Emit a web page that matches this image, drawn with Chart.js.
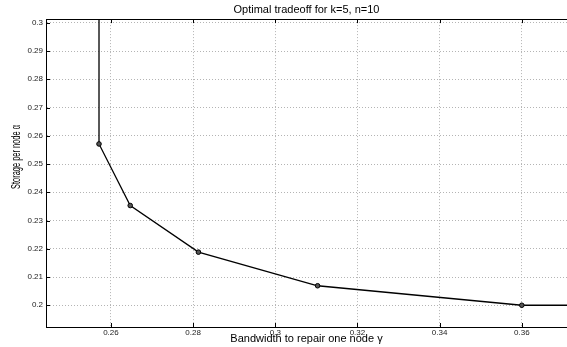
<!DOCTYPE html>
<html>
<head>
<meta charset="utf-8">
<script src="https://cdn.jsdelivr.net/npm/chart.js@4/dist/chart.umd.min.js"></script>
<style>
  html, body { margin: 0; padding: 0; background: #fff; }
  canvas { display: block; }
</style>
</head>
<body>
<canvas id="chart" width="567" height="347"></canvas>
<script>
// tradeoff curve, k=5, n=10 (first/last points run off the axes)
const gammaVals = [0.2571, 0.2571, 0.2647, 0.2813, 0.3103, 0.36, 0.372];
const alphaVals = [0.31, 0.2571, 0.2353, 0.2188, 0.2069, 0.2, 0.2];
const showMarker = [false, true, true, true, true, true, false];

const xTicks = [0.26, 0.28, 0.3, 0.32, 0.34, 0.36];
const yTicks = [0.2, 0.21, 0.22, 0.23, 0.24, 0.25, 0.26, 0.27, 0.28, 0.29, 0.3];

const titleText = 'Optimal tradeoff for k=5, n=10';
const xLabel = 'Bandwidth to repair one node \u03b3';
const yLabel = 'Storage per node \u03b1';

const fontFam = '"Liberation Sans", Arial, Helvetica, sans-serif';

const points = gammaVals.map((g, i) => ({ x: g, y: alphaVals[i] }));

// matlab style: inward tick marks, top frame line, axis labels
const matlabAxes = {
  id: 'matlabAxes',
  afterDraw(chart) {
    const ctx = chart.ctx;
    const area = chart.chartArea;
    const xs = chart.scales.x;
    const ys = chart.scales.y;
    ctx.save();
    ctx.strokeStyle = '#000';
    ctx.lineWidth = 1;
    ctx.beginPath();
    ctx.moveTo(area.left, Math.round(area.top) + 0.5);
    ctx.lineTo(area.right, Math.round(area.top) + 0.5);
    xTicks.forEach(v => {
      const px = Math.round(xs.getPixelForValue(v)) + 0.5;
      ctx.moveTo(px, area.bottom);
      ctx.lineTo(px, area.bottom - 4);
      ctx.moveTo(px, area.top);
      ctx.lineTo(px, area.top + 4);
    });
    yTicks.forEach(v => {
      const py = Math.round(ys.getPixelForValue(v)) + 0.5;
      ctx.moveTo(area.left, py);
      ctx.lineTo(area.left + 4, py);
    });
    ctx.stroke();

    ctx.fillStyle = '#000';
    ctx.font = '11px ' + fontFam;
    ctx.textAlign = 'center';
    ctx.textBaseline = 'middle';
    ctx.fillText(xLabel, (area.left + area.right) / 2, 339);

    ctx.font = '12px ' + fontFam;
    ctx.translate(17, 157);
    ctx.rotate(-Math.PI / 2);
    ctx.scale(0.62, 1);
    ctx.fillText(yLabel, 0, 0);
    ctx.restore();
  }
};

new Chart(document.getElementById('chart'), {
  type: 'line',
  data: {
    datasets: [
      {
        data: points,
        borderColor: '#000',
        borderWidth: 1.3,
        fill: false,
        tension: 0,
        clip: 0,
        pointRadius: showMarker.map(s => (s ? 2.3 : 0)),
        pointHoverRadius: 0,
        pointBackgroundColor: '#555',
        pointBorderColor: '#000',
        pointBorderWidth: 1,
      },
    ],
  },
  options: {
    responsive: false,
    animation: false,
    events: [],
    layout: { padding: 0 },
    plugins: {
      legend: { display: false },
      tooltip: { enabled: false },
      title: {
        display: true,
        text: titleText,
        fullSize: false,
        color: '#000',
        font: { family: fontFam, size: 11, weight: 'normal', lineHeight: 1.1 },
        padding: { top: 4, bottom: 3 },
      },
    },
    scales: {
      x: {
        type: 'linear',
        min: 0.2442,
        max: 0.371,
        afterBuildTicks: s => { s.ticks = xTicks.map(v => ({ value: v })); },
        afterFit: s => { s.height = 20; },
        ticks: {
          color: '#222',
          font: { family: fontFam, size: 8 },
          padding: 1,
          maxRotation: 0,
          callback: v => String(+v.toFixed(2)),
        },
        grid: { color: '#b4b4b4', lineWidth: 1, drawTicks: false },
        border: { color: '#000', width: 1, dash: [1, 2] },
      },
      y: {
        type: 'linear',
        min: 0.1923,
        max: 0.3013,
        afterBuildTicks: s => { s.ticks = yTicks.map(v => ({ value: v })); },
        afterFit: s => { s.width = 46; },
        ticks: {
          color: '#222',
          font: { family: fontFam, size: 8 },
          padding: 3,
          callback: v => String(+v.toFixed(2)),
        },
        grid: { color: '#b4b4b4', lineWidth: 1, drawTicks: false },
        border: { color: '#000', width: 1, dash: [1, 2] },
      },
    },
  },
  plugins: [matlabAxes],
});
</script>
</body>
</html>
